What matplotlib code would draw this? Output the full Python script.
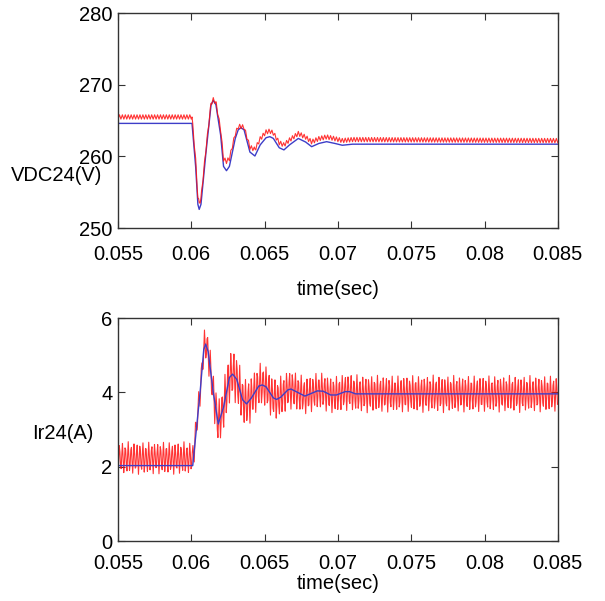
import numpy as np
import matplotlib
matplotlib.use('Agg')
import matplotlib.pyplot as plt

plt.rcParams['font.family'] = ['Liberation Sans', 'DejaVu Sans']
plt.rcParams['font.size'] = 14.5

# DC link voltage (blue, averaged model) - key points
vdc_t = [0.055, 0.06005, 0.0603, 0.06045, 0.06054, 0.06066, 0.0610,
         0.06135, 0.0615, 0.06168, 0.0620, 0.0622, 0.0624, 0.0626, 0.0630,
         0.0632, 0.06338, 0.0636, 0.0640, 0.06434, 0.0647, 0.0651, 0.06536,
         0.0656, 0.0660, 0.06632, 0.0667, 0.0673, 0.0678, 0.06821, 0.0687,
         0.06923, 0.0698, 0.0703, 0.0710, 0.085]
vdc_v = [264.6, 264.6, 258.5, 253.3, 252.6, 253.3, 260.5,
         267.2, 267.8, 267.2, 263.0, 258.6, 258.0, 258.6, 262.5,
         263.7, 264.0, 263.7, 260.6, 260.05, 261.6, 262.6, 262.75,
         262.5, 261.2, 260.9, 261.6, 262.5, 262.0, 261.35, 261.8,
         262.05, 261.8, 261.55, 261.7, 261.7]

# offset of the switched model (red) above the averaged one
vdc_off_t = [0.055, 0.0600, 0.0605, 0.0615, 0.0624, 0.0634, 0.0643, 0.0660, 0.085]
vdc_off_v = [0.9, 0.9, 0.9, 0.1, 1.3, 0.2, 0.9, 0.7, 0.5]
vdc_ripple_t = [0.055, 0.085]
vdc_ripple_a = [0.3, 0.3]

# rectifier current (blue, averaged model)
ir_t = [0.055, 0.0601, 0.0606, 0.06085, 0.06098, 0.06115, 0.0615,
        0.06184, 0.0622, 0.0626, 0.06282, 0.0631, 0.0635, 0.06377, 0.0641,
        0.0646, 0.06484, 0.0651, 0.0656, 0.06582, 0.0661, 0.0666, 0.0668,
        0.0670, 0.06775, 0.0686, 0.0690, 0.0695, 0.0699, 0.0705, 0.0708,
        0.0712, 0.085]
ir_v = [2.03, 2.03, 4.0, 5.15, 5.30, 5.1, 4.0,
        3.15, 3.6, 4.4, 4.49, 4.35, 3.8, 3.69, 3.85,
        4.17, 4.20, 4.15, 3.85, 3.81, 3.87, 4.07, 4.09,
        4.05, 3.90, 4.04, 4.03, 3.93, 3.93, 4.02, 4.02,
        3.96, 3.96]

ir_off_t = [0.055, 0.0600, 0.0606, 0.085]
ir_off_v = [0.2, 0.2, 0.0, 0.0]
ir_ripple_t = [0.055, 0.0600, 0.0606, 0.0612, 0.0625, 0.0650, 0.0680, 0.085]
ir_ripple_a = [0.45, 0.45, 0.40, 0.55, 0.75, 0.6, 0.52, 0.5]

ripple_period = 0.0002
sample_step = 0.0000437  # solver output step, not a multiple of the ripple

x_ticks = [0.055, 0.06, 0.065, 0.07, 0.075, 0.08, 0.085]
x_labels = ['0.055', '0.06', '0.065', '0.07', '0.075', '0.08', '0.085']
vdc_ticks = [250, 260, 270, 280]
ir_ticks = [0, 2, 4, 6]

blue = '#3d3dc8'
red = '#ff1010'


def switched(t_key, v_key, off_t, off_v, amp_t, amp_v, step):
    # red trace: averaged curve + offset + triangular switching ripple
    ts = np.arange(0.055, 0.085 + 1e-9, step)
    ph = (ts / ripple_period) % 1.0
    tri = 1.0 - 4.0 * np.abs(ph - 0.5)
    mean = np.interp(ts, t_key, v_key) + np.interp(ts, off_t, off_v)
    return ts, mean + tri * np.interp(ts, amp_t, amp_v)


def style(ax, yticks, xpad, lpad):
    ax.set_xlim(0.055, 0.085)
    ax.set_xticks(x_ticks)
    ax.set_xticklabels(x_labels)
    ax.set_yticks(yticks)
    ax.set_ylim(yticks[0], yticks[-1])
    ax.tick_params(direction='in', top=True, right=True, length=5, width=0.8,
                   color='#333333')
    ax.tick_params(axis='x', pad=xpad)
    ax.tick_params(axis='y', pad=4)
    for s in ax.spines.values():
        s.set_color('#333333')
        s.set_linewidth(1.0)
    ax.set_xlabel('time(sec)', labelpad=lpad)


fig = plt.figure(figsize=(6.05, 6.01), dpi=100)
ax1 = fig.add_axes([0.195, 0.6206, 0.727, 0.3577])
ax2 = fig.add_axes([0.195, 0.0998, 0.727, 0.371])

tr, vr = switched(vdc_t, vdc_v, vdc_off_t, vdc_off_v, vdc_ripple_t,
                  vdc_ripple_a, ripple_period / 4)
ax1.plot(vdc_t, vdc_v, color=blue, lw=1.0)
ax1.plot(tr, vr, color=red, lw=0.8, alpha=0.85)
style(ax1, vdc_ticks, 12, 12)
ax1.set_ylabel('VDC24(V)', rotation=0, ha='right', va='center')
ax1.yaxis.set_label_coords(-0.035, 0.245)

tr, ir_r = switched(ir_t, ir_v, ir_off_t, ir_off_v, ir_ripple_t,
                    ir_ripple_a, sample_step)
ax2.plot(tr, ir_r, color=red, lw=0.8, alpha=0.85)
ax2.plot(ir_t, ir_v, color=blue, lw=1.0)
style(ax2, ir_ticks, 9, 1)
ax2.set_ylabel('Ir24(A)', rotation=0, ha='right', va='center')
ax2.yaxis.set_label_coords(-0.055, 0.48)

fig.savefig('out.png', dpi=100)
